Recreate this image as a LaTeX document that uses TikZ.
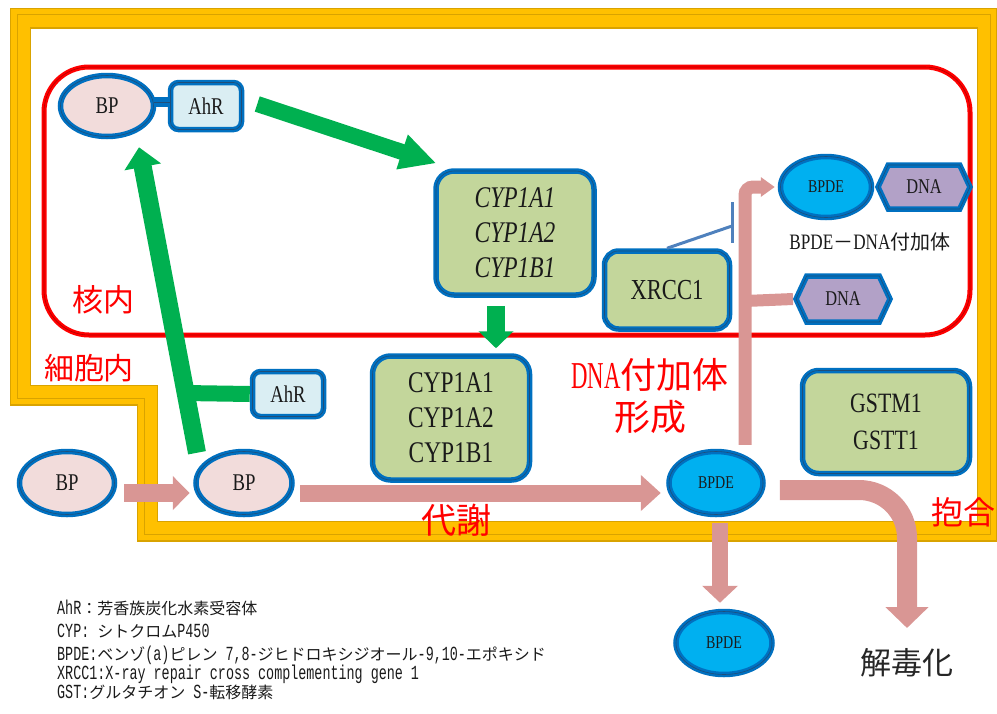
\documentclass[tikz,border=0pt]{standalone}
\usepackage{fontspec}
\usetikzlibrary{arrows.meta,shapes.geometric,shapes.symbols}
\newfontfamily\jp{Noto Sans CJK JP}
\newfontfamily\ser[FakeStretch=0.78]{Liberation Serif}
\newfontfamily\sern[FakeStretch=0.6]{Liberation Serif}
\newfontfamily\lmono[FakeStretch=0.67]{Liberation Mono}
\newcommand\fsz[2]{\fontsize{#1}{#2}\selectfont}
\newcommand\LJ[1]{{\jp\fsz{16}{19}#1}}
\newcommand\LM[1]{{\lmono\fsz{20}{22}#1}}
\definecolor{bl}{HTML}{0070C0}
\definecolor{bldark}{HTML}{1F4E79}
\definecolor{pinkf}{HTML}{F2DCDB}
\definecolor{lbluef}{HTML}{DAEEF3}
\definecolor{greenf}{HTML}{C3D69B}
\definecolor{cyanf}{HTML}{00B0F0}
\definecolor{lavf}{HTML}{B2A1C7}
\definecolor{gcol}{HTML}{00B050}
\definecolor{pcol}{HTML}{D99694}
\definecolor{yel}{HTML}{FFC000}
\definecolor{ydark}{HTML}{D9A300}
\definecolor{redc}{HTML}{FF0000}
\definecolor{inhc}{HTML}{4F81BD}
\definecolor{txt}{HTML}{1A1A1A}
\tikzset{
  base/.style={draw=bl, line width=5.5pt, text=txt, inner sep=0pt,
    postaction={draw=bldark, line width=0.6pt}},
  ellnode/.style={base, ellipse},
  boxnode/.style={base, rectangle, rounded corners=#1},
  hexnode/.style={base, signal, signal to=east and west, signal pointer angle=130, fill=lavf},
  garrow/.style n args={3}{draw=gcol, line width=#1, -{Triangle[length=#2,width=#3]}},
  parrow/.style n args={3}{draw=pcol, line width=#1, -{Triangle[length=#2,width=#3]}},
  redlbl/.style={text=redc, inner sep=0pt},
}
\begin{document}
\begin{tikzpicture}[x=1pt,y=-1pt]
\useasboundingbox (0,0) rectangle (997,713);
% cell frame
\draw[line width=21pt, draw=ydark, line join=miter] (20.5,18) -- (987,18) -- (987,531) -- (147.5,531) -- (147.5,395) -- (20.5,395) -- cycle;
\draw[line width=18.5pt, draw=yel, line join=miter] (20.5,18) -- (987,18) -- (987,531) -- (147.5,531) -- (147.5,395) -- (20.5,395) -- cycle;
\draw[line width=0.5pt, draw=ydark, line join=miter] (17,14.5) -- (990.5,14.5) -- (990.5,534.5) -- (144,534.5) -- (144,398.5) -- (17,398.5) -- cycle;
% nucleus
\draw[draw=redc, line width=5pt, rounded corners=45pt] (44,67) rectangle (970,335);
\draw[draw=red!70!black, line width=0.6pt, rounded corners=45pt] (44,67) rectangle (970,335);

% nodes
\node[ellnode, fill=pinkf, minimum width=93pt, minimum height=61pt, font=\ser\fsz{24}{28}] (bp1) at (107,106) {BP};
\node[boxnode=8pt, fill=lbluef, minimum width=71pt, minimum height=47pt, font=\ser\fsz{24}{28}] (ahr1) at (206,106) {AhR};
\node[boxnode=18pt, fill=greenf, minimum width=158pt, minimum height=124pt, align=center, font=\ser\itshape\fsz{30}{35}] (cypi) at (515,233) {CYP1A1\\CYP1A2\\CYP1B1};
\node[boxnode=18pt, fill=greenf, minimum width=157pt, minimum height=124pt, align=center, font=\ser\fsz{30}{35}] (cyp) at (451,418) {CYP1A1\\CYP1A2\\CYP1B1};
\node[boxnode=8pt, fill=lbluef, minimum width=71pt, minimum height=45pt, font=\ser\fsz{24}{28}] (ahr2) at (288,394) {AhR};
\node[ellnode, fill=pinkf, minimum width=95pt, minimum height=63pt, font=\ser\fsz{24}{28}] (bp2) at (67,483) {BP};
\node[ellnode, fill=pinkf, minimum width=96pt, minimum height=63pt, font=\ser\fsz{24}{28}] (bp3) at (244,483) {BP};
\node[ellnode, fill=cyanf, minimum width=94pt, minimum height=63pt, font=\ser\fsz{18}{22}] (bpde1) at (716,483) {BPDE};
\node[boxnode=14pt, fill=greenf, minimum width=125pt, minimum height=78pt, font=\ser\fsz{29}{32}] (xrcc) at (667,290) {XRCC1};
\node[ellnode, fill=cyanf, minimum width=91pt, minimum height=61pt, font=\ser\fsz{18}{22}] (bpde2) at (826,187) {BPDE};
\node[hexnode, minimum width=92pt, minimum height=44pt, font=\ser\fsz{21}{24}] (dna1) at (924,187) {DNA};
\node[hexnode, minimum width=94pt, minimum height=46pt, font=\ser\fsz{21}{24}] (dna2) at (843,299) {DNA};
\node[boxnode=16pt, fill=greenf, minimum width=167pt, minimum height=103pt, align=center, font=\ser\fsz{28}{37}] (gst) at (886,422) {GSTM1\\GSTT1};
\node[ellnode, fill=cyanf, minimum width=96pt, minimum height=63pt, font=\ser\fsz{18}{22}] (bpde3) at (724,643) {BPDE};
\node[text=txt, inner sep=0pt] (adduct) at (870,242) {{\ser\fsz{22}{24}BPDE}{\jp\fsz{20}{24}－}{\ser\fsz{22}{24}DNA}{\jp\fsz{20}{24}付加体}};

% labels
\node[redlbl, font=\jp\fsz{31}{34}] (kaku) at (103,300) {核内};
\node[redlbl, font=\jp\fsz{30}{34}] (saibo) at (89,368) {細胞内};
\node[redlbl, font=\jp\fsz{35}{38}] (taisha) at (456,520) {代謝};
\node[redlbl, font=\jp\fsz{36}{42}, align=center] (dnaf) at (650,396) {{\sern\fsz{38}{42}DNA}付加体\\形成};
\node[redlbl, font=\jp\fsz{32}{34}] (hougo) at (963,512) {抱合};
\node[text=black!85, inner sep=0pt, font=\jp\fsz{31}{34}] (detox) at (907,663) {解毒化};

% connectors
\draw[bl, line width=10pt] ([shift={(-2,-4)}]bp1.east) -- ([shift={(2,-4)}]ahr1.west);
\draw[bldark, line width=0.6pt] ([shift={(-2,-4)}]bp1.east) -- ([shift={(2,-4)}]ahr1.west);
\draw[garrow={16pt}{36pt}{34pt}] ([shift={(13,-2)}]ahr1.east) -- ([shift={(3,-5)}]cypi.north west);
\draw[garrow={18pt}{17pt}{34pt}] ([shift={(-19,8)}]cypi.south) -- ([shift={(45,-5)}]cyp.north);
\coordinate (gj) at (185,393);
\draw[gcol, line width=16pt] (gj) -- (ahr2.west);
\draw[garrow={18pt}{20pt}{36pt}] ([shift={(-47,4)}]bp3.north) -- ([shift={(32,8)}]bp1.south);
\draw[parrow={18pt}{17pt}{33pt}] ([shift={(7,10)}]bp2.east) -- ([shift={(-3.5,10)}]bp3.west);
\draw[parrow={17pt}{20pt}{35pt}] ([shift={(5.5,10)}]bp3.east) -- ([shift={(-5.5,10)}]bpde1.west);
\draw[parrow={13pt}{14pt}{19pt}, rounded corners=8pt] ([shift={(29,-4)}]bpde1.north) |- ([shift={(-3,0)}]bpde2.west);
\coordinate (br) at (745,301);
\draw[pcol, line width=12pt] (br) -- (dna2.west);
\coordinate (inh) at (732,226);
\draw[inhc, line width=3pt] (xrcc.north) -- (inh);
\draw[inhc, line width=3pt] ([shift={(0,-24)}]inh) -- ([shift={(0,17)}]inh);
\draw[parrow={16pt}{17pt}{35pt}] ([shift={(4,6)}]bpde1.south) -- ([shift={(-4,-6)}]bpde3.north);
\draw[parrow={20pt}{21pt}{42pt}, rounded corners=48pt] ([shift={(14,7)}]bpde1.east) -| ([shift={(0,-35)}]detox.center);

% legend
\node[text=txt, inner sep=0pt, anchor=base west] (lg1) at (57,614) {\LM{AhR}\LJ{：芳香族炭化水素受容体}};
\node[text=txt, inner sep=0pt, anchor=base west] (lg2) at (57,637) {\LM{CYP: }\LJ{シトクロム}\LM{P450}};
\node[text=txt, inner sep=0pt, anchor=base west] (lg3) at (57,660) {\LM{BPDE:}\LJ{ベンゾ}\LM{(a)}\LJ{ピレン}\LM{ 7,8-}\LJ{ジヒドロキシジオール}\LM{-9,10-}\LJ{エポキシド}};
\node[text=txt, inner sep=0pt, anchor=base west] (lg4) at (57,679) {\LM{XRCC1:X-ray repair cross complementing gene 1}};
\node[text=txt, inner sep=0pt, anchor=base west] (lg5) at (57,698) {\LM{GST:}\LJ{グルタチオン}\LM{ S-}\LJ{転移酵素}};
\end{tikzpicture}
\end{document}
